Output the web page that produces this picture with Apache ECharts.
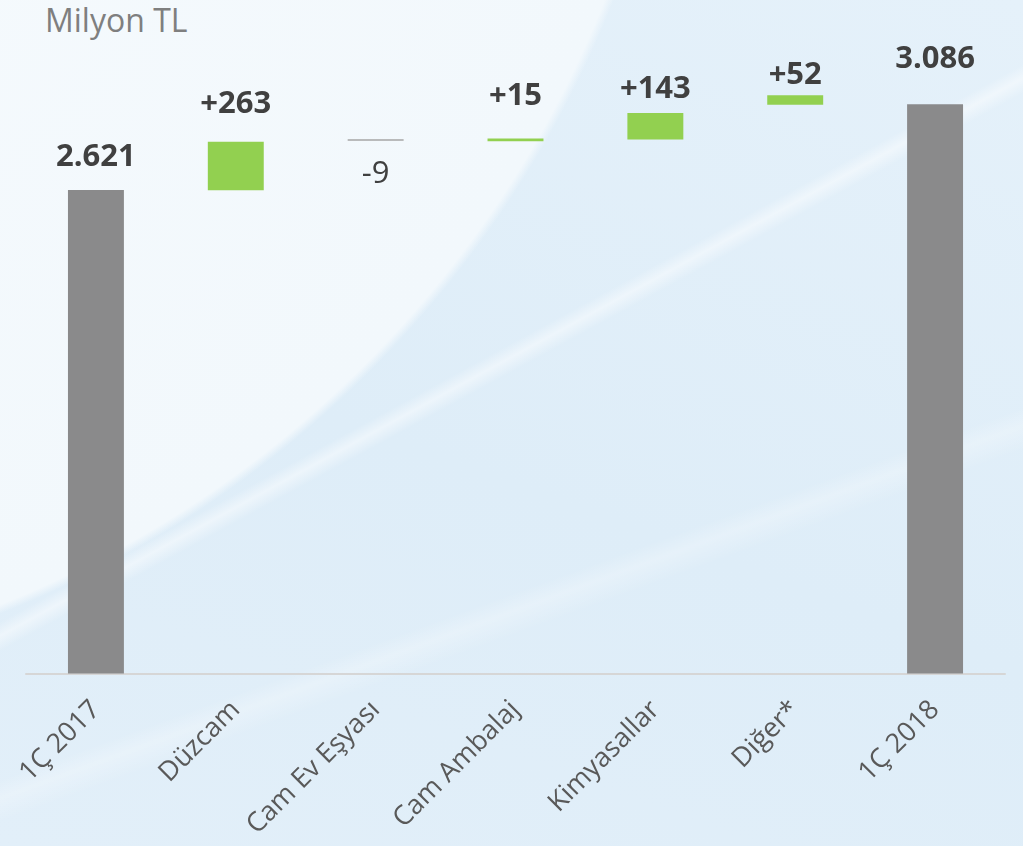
<!DOCTYPE html>
<html>
<head>
<meta charset="utf-8">
<script src="https://cdn.jsdelivr.net/npm/echarts@6/dist/echarts.min.js"></script>
<style>
  html, body { margin: 0; padding: 0; width: 1023px; height: 846px; overflow: hidden; }
  body {
    background:
      linear-gradient(151.4deg, rgba(255,255,255,0) 44.3%, rgba(255,255,255,0.45) 45.3%, rgba(255,255,255,0) 46.4%),
      linear-gradient(160deg, rgba(255,255,255,0) 64%, rgba(255,255,255,0.25) 65.5%, rgba(255,255,255,0) 67.5%),
      radial-gradient(circle 1090px at -400px -400px, #f7fbfe 0%, #f2f8fc 99.2%, rgba(242,248,252,0) 100%),
      linear-gradient(200deg, #e5f1fa 0%, #deedf8 55%, #e2eff9 100%);
  }
  #chart { position: absolute; left: 0; top: 0; width: 1023px; height: 846px; }
  #unit { position: absolute; left: 45px; top: -2px; font-family: "Open Sans", sans-serif; font-size: 32px; color: #7f7f7f; }
</style>
</head>
<body>
<div id="unit">Milyon TL</div>
<div id="chart"></div>
<script>
// Waterfall: opening total, segment changes, closing total (million TL)
const categories = ['1Ç 2017', 'Düzcam', 'Cam Ev Eşyası', 'Cam Ambalaj', 'Kimyasallar', 'Diğer*', '1Ç 2018'];
const changes = [2621, 263, -9, 15, 143, 52, 3086];
const isTotal = [true, false, false, false, false, false, true];
// lower edge of each floating step
const floors = [0, 2620, 2888, 2886, 2896, 3084, 0];

const GREY = '#8a8a8b', GREEN = '#92d050', NEG = '#a6a6a6';
const labelGap = [17, 22, 18, 27, 8, 4, 30];

function fmtTotal(v) { return String(v).replace(/\B(?=(\d{3})+(?!\d))/g, '.'); }
function fmtLabel(i) {
  const v = changes[i];
  if (isTotal[i]) return fmtTotal(v);
  return (v > 0 ? '+' : '') + v;
}

const chart = echarts.init(document.getElementById('chart'), null, { renderer: 'canvas' });

const visible = changes.map((v, i) => {
  const neg = v < 0;
  return {
    value: Math.abs(v),
    itemStyle: { color: isTotal[i] ? GREY : (neg ? NEG : GREEN) },
    label: {
      show: true,
      position: neg ? 'bottom' : 'top',
      distance: labelGap[i],
      formatter: () => fmtLabel(i),
      fontWeight: neg ? 'normal' : 'bold'
    }
  };
});

chart.setOption({
  backgroundColor: 'transparent',
  animation: false,
  grid: { left: 26, right: 18, top: 28, bottom: 172.5, containLabel: false },
  xAxis: {
    type: 'category',
    data: categories,
    axisLine: { lineStyle: { color: '#d6d6d6', width: 2 } },
    axisTick: { show: false },
    axisLabel: {
      rotate: 45,
      interval: 0,
      margin: 32,
      color: '#595959',
      fontSize: 27,
      fontFamily: 'Open Sans'
    }
  },
  yAxis: {
    type: 'value',
    min: 0,
    max: 3500,
    show: false,
    splitLine: { show: false }
  },
  series: [
    {
      type: 'bar',
      stack: 'wf',
      data: floors,
      itemStyle: { color: 'transparent' },
      barWidth: '40%',
      silent: true
    },
    {
      type: 'bar',
      stack: 'wf',
      data: visible,
      barWidth: '40%',
      label: {
        color: '#404040',
        fontSize: 31,
        fontFamily: 'Open Sans'
      }
    }
  ]
});
</script>
</body>
</html>
